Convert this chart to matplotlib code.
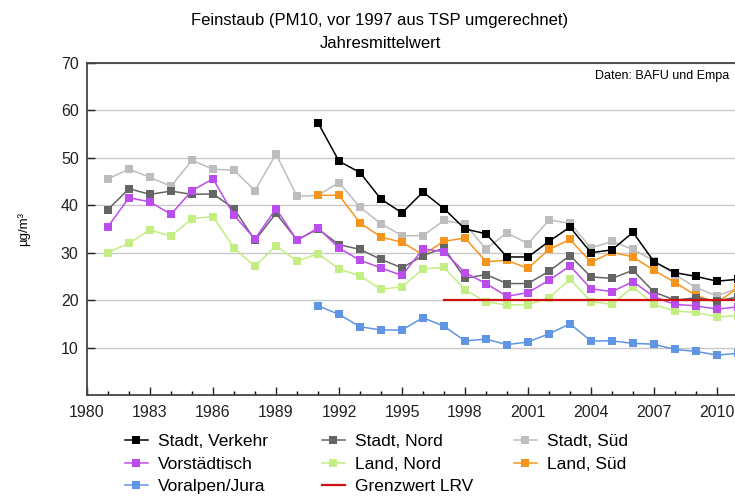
import matplotlib
matplotlib.use('Agg')
import matplotlib.pyplot as plt
from matplotlib.ticker import MultipleLocator

plt.rcParams['font.family'] = ['Liberation Sans', 'DejaVu Sans']

years_early = list(range(1981, 2012))   # 1981..2011
years_late = list(range(1991, 2012))    # 1991..2011

# Jahresmittelwerte in µg/m³
stadt_verkehr = [57.4, 49.3, 46.9, 41.3, 38.4, 42.8, 39.3, 35.0, 34.0, 29.1,
                 29.1, 32.4, 35.4, 30.0, 30.6, 34.3, 28.1, 25.8, 25.0, 24.0, 24.4]
stadt_nord = [39.1, 43.5, 42.3, 43.0, 42.3, 42.4, 39.3, 32.6, 38.3, 32.7,
              35.0, 31.7, 30.7, 28.6, 26.8, 29.4, 31.0, 24.6, 25.4, 23.5,
              23.5, 26.1, 29.4, 24.9, 24.6, 26.3, 21.7, 20.0, 20.5, 19.8, 20.7]
stadt_sued = [45.6, 47.6, 45.9, 44.0, 49.5, 47.6, 47.4, 43.1, 50.8, 41.9,
              42.1, 44.8, 39.6, 36.1, 33.6, 33.6, 36.8, 36.0, 30.8, 34.2,
              31.9, 36.9, 36.2, 31.0, 32.4, 30.7, 28.3, 25.4, 22.6, 20.9, 22.5]
vorstaedtisch = [35.5, 41.6, 40.7, 38.1, 43.1, 45.6, 37.9, 32.9, 39.3, 32.6,
                 35.2, 31.0, 28.4, 26.8, 25.2, 30.8, 30.2, 25.8, 23.5, 20.8,
                 21.6, 24.2, 27.2, 22.4, 21.8, 23.9, 20.7, 19.1, 18.8, 18.1, 18.6]
land_nord = [30.0, 32.0, 34.8, 33.5, 37.2, 37.6, 31.0, 27.1, 31.5, 28.2,
             29.8, 26.6, 25.1, 22.3, 22.8, 26.6, 26.9, 22.2, 19.6, 19.0,
             19.0, 20.5, 24.4, 19.7, 19.1, 22.8, 19.1, 17.7, 17.4, 16.5, 16.7]
land_sued = [42.1, 42.1, 36.3, 33.3, 32.2, 29.6, 32.4, 33.1, 28.1, 28.4,
             26.7, 30.7, 32.8, 28.0, 30.1, 29.1, 26.3, 23.7, 21.0, 19.5, 22.6]
voralpen_jura = [18.8, 17.0, 14.4, 13.7, 13.7, 16.3, 14.5, 11.4, 11.8, 10.6,
                 11.2, 12.9, 15.0, 11.4, 11.4, 10.9, 10.7, 9.6, 9.2, 8.4, 8.8]
grenzwert_years = [1997, 2012]
grenzwert = [20, 20]

fig = plt.figure(figsize=(7.35, 5.0), dpi=100)
ax = fig.add_axes([87 / 735, 105 / 500, 672 / 735, 332 / 500])

style = dict(marker='s', markersize=5.4, linewidth=1.1, markeredgewidth=0)
h_sv, = ax.plot(years_late, stadt_verkehr, color='#000000', label='Stadt, Verkehr', zorder=9, **style)
h_ss, = ax.plot(years_early, stadt_sued, color='#bdbdbd', label='Stadt, Süd', zorder=3, **style)
h_ls, = ax.plot(years_late, land_sued, color='#f7941d', label='Land, Süd', zorder=4, **style)
h_sn, = ax.plot(years_early, stadt_nord, color='#656565', label='Stadt, Nord', zorder=5, **style)
h_vs, = ax.plot(years_early, vorstaedtisch, color='#bb4ded', label='Vorstädtisch', zorder=6, **style)
h_ln, = ax.plot(years_early, land_nord, color='#c3ee83', label='Land, Nord', zorder=2, **style)
h_vj, = ax.plot(years_late, voralpen_jura, color='#5f95e3', label='Voralpen/Jura', zorder=6, **style)
h_gw, = ax.plot(grenzwert_years, grenzwert, color='#d01010', linewidth=1.6, label='Grenzwert LRV', zorder=7)

ax.set_xlim(1980, 2012)
ax.set_ylim(0, 70)
ax.xaxis.set_major_locator(MultipleLocator(3))
ax.xaxis.set_minor_locator(MultipleLocator(1))
ax.set_yticks(range(10, 71, 10))
ax.grid(axis='y', color='#c8c8c8', linewidth=1.0, zorder=0)
ax.set_axisbelow(True)

ax.tick_params(axis='x', which='major', direction='in', length=6, width=1, pad=7,
               labelsize=11.5, colors='#222222')
ax.tick_params(axis='x', which='minor', direction='in', length=3, width=1)
ax.tick_params(axis='y', direction='in', length=6, width=1, pad=6,
               labelsize=11.5, colors='#222222')
for s in ax.spines.values():
    s.set_color('#444444')
    s.set_linewidth(1.3)

ax.set_ylabel('µg/m³', fontsize=9.5, labelpad=22)

fig.text(380 / 735, 1 - 20 / 500, 'Feinstaub (PM10, vor 1997 aus TSP umgerechnet)',
         ha='center', va='center', fontsize=12)
fig.text(380 / 735, 1 - 43 / 500, 'Jahresmittelwert', ha='center', va='center', fontsize=12)
fig.text(729 / 735, 1 - 76 / 500, 'Daten: BAFU und Empa', ha='right', va='center', fontsize=9)

# one legend per column so the columns sit where they do in the original
columns = [([h_sv, h_vs, h_vj], 125), ([h_sn, h_ln, h_gw], 322), ([h_ss, h_ls], 514)]
for hs, x0 in columns:
    fig.legend(handles=hs, labels=[h.get_label() for h in hs], ncol=1,
               loc='upper left', bbox_to_anchor=(x0 / 735, 1 - 434 / 500),
               frameon=False, fontsize=12.5, handlelength=1.3, handletextpad=0.6,
               labelspacing=0.42, borderpad=0, borderaxespad=0)

fig.savefig('out.png', dpi=100)
